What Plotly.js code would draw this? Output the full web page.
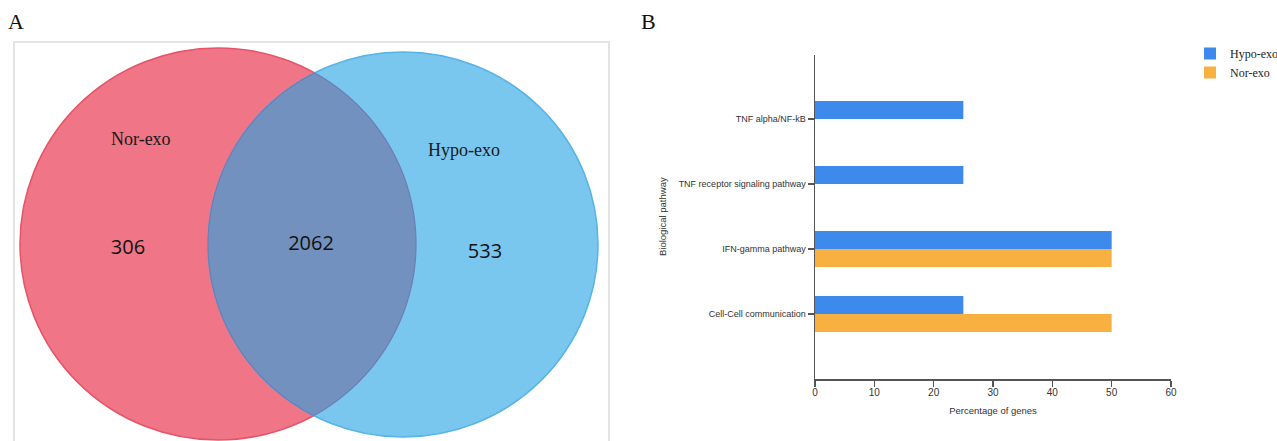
<!DOCTYPE html>
<html><head><meta charset="utf-8">
<script src="https://cdn.plot.ly/plotly-3.0.1.min.js"></script>
<style>html,body{margin:0;padding:0;background:#fff;}#chart{width:1277px;height:441px;}</style>
</head><body><div id="chart"></div>
<script>
// ---- Panel A: Venn data ----
const vennSetNames = ['Nor-exo', 'Hypo-exo'];
const vennCounts = [306, 2062, 533];   // Nor-exo only, shared, Hypo-exo only

// ---- Panel B: bar data ----
const pathways = ['TNF alpha/NF-kB', 'TNF receptor signaling pathway', 'IFN-gamma pathway', 'Cell-Cell communication'];
const hypoExo = [25, 25, 50, 25];
const norExo = [0, 0, 50, 50];
const xTickVals = [0, 10, 20, 30, 40, 50, 60];

// ---- styling / layout constants ----
const W = 1277, H = 441;
const SANS = 'Liberation Sans Narrow, Arial Narrow, Liberation Sans, Arial, sans-serif';
const SERIF = 'Liberation Serif, Times New Roman, serif';
const COL_HYPO = '#3D89EC', COL_NOR = '#F8B140';
const AXC = '#555555';

const redE = {cx: 218, cy: 244, rx: 198, ry: 196};
const blueE = {cx: 403, cy: 244.5, rx: 195, ry: 192.5};

function inside(e, x, y) { return ((x - e.cx) / e.rx) ** 2 + ((y - e.cy) / e.ry) ** 2 <= 1; }
function arc(e, other, t0) {
  const pts = [], N = 720;
  for (let i = 0; i <= N; i++) {
    const t = t0 + 2 * Math.PI * i / N;
    const x = e.cx + e.rx * Math.cos(t), y = e.cy + e.ry * Math.sin(t);
    if (inside(other, x, y)) pts.push([x, y]);
  }
  return pts;
}
const lensPts = arc(redE, blueE, -Math.PI).concat(arc(blueE, redE, 0));
const lensPath = 'M' + lensPts.map(p => p[0].toFixed(2) + ',' + p[1].toFixed(2)).join('L') + 'Z';

function ell(e, fill, line) {
  return {type: 'circle', xref: 'x2', yref: 'y2', x0: e.cx - e.rx, x1: e.cx + e.rx,
    y0: e.cy - e.ry, y1: e.cy + e.ry, fillcolor: fill, line: {color: line, width: 1.5}, layer: 'below'};
}

const traces = [
  {type: 'bar', orientation: 'h', name: 'Hypo-exo', y: pathways, x: hypoExo,
   marker: {color: COL_HYPO, line: {width: 0}}, xaxis: 'x', yaxis: 'y', hoverinfo: 'x+y+name'},
  {type: 'bar', orientation: 'h', name: 'Nor-exo', y: pathways, x: norExo,
   marker: {color: COL_NOR, line: {width: 0}}, xaxis: 'x', yaxis: 'y', hoverinfo: 'x+y+name'},
  {type: 'scatter', mode: 'text', x: [128, 311, 485], y: [249, 245, 253],
   text: vennCounts.map(String), textposition: 'middle center',
   textfont: {family: 'Open Sans, DejaVu Sans, sans-serif', size: 20, color: '#111'},
   xaxis: 'x2', yaxis: 'y2', showlegend: false, hoverinfo: 'skip', cliponaxis: false}
];

const layout = {
  width: W, height: H,
  margin: {l: 0, r: 0, t: 0, b: 0, autoexpand: false},
  paper_bgcolor: '#ffffff', plot_bgcolor: 'rgba(0,0,0,0)',
  barmode: 'group', bargap: 0.446, bargroupgap: 0,
  xaxis: {domain: [815 / W, 1171 / W], range: [0, 60], tickvals: xTickVals, anchor: 'y', automargin: false,
    ticks: 'outside', ticklen: 6, tickwidth: 1.2, tickcolor: AXC, ticklabelstandoff: -3,
    showline: true, linecolor: AXC, linewidth: 1.5, showgrid: false, zeroline: false,
    tickfont: {family: SANS, size: 10, color: '#333'},
    title: {text: 'Percentage of genes', font: {family: SANS, size: 9.5, color: '#333'}, standoff: 11},
    fixedrange: true},
  yaxis: {domain: [1 - 379 / H, 1 - 55 / H], range: [4, -0.985], type: 'category', anchor: 'x', automargin: false,
    ticks: 'outside', ticklen: 6, tickwidth: 1.2, tickcolor: AXC,
    showline: true, linecolor: AXC, linewidth: 1.5, showgrid: false, zeroline: false,
    tickfont: {family: SANS, size: 9, color: '#333'},
    fixedrange: true},
  xaxis2: {domain: [0, 1], range: [0, W], anchor: 'y2', visible: false, fixedrange: true},
  yaxis2: {domain: [0, 1], range: [H, 0], anchor: 'x2', visible: false, fixedrange: true},
  legend: {x: 1190 / W, y: 1 - 39 / H, xanchor: 'left', yanchor: 'top',
    font: {family: SERIF, size: 12, color: '#222'}, bgcolor: 'rgba(255,255,255,0)',
    itemwidth: 30, tracegroupgap: 0},
  shapes: [
    {type: 'rect', xref: 'x2', yref: 'y2', x0: 14, x1: 609, y0: 42, y1: 470,
     line: {color: '#e3e3e3', width: 2}, fillcolor: 'rgba(0,0,0,0)', layer: 'below'},
    ell(redE, '#F07586', '#E65468'),
    ell(blueE, '#79C6EE', '#58B3E6'),
    {type: 'path', xref: 'x2', yref: 'y2', path: lensPath, fillcolor: '#7391BE',
     line: {color: '#6D7DB6', width: 1.2}, layer: 'below'},
    // outer ticks at the ends of the y axis
    {type: 'line', xref: 'x', xsizemode: 'pixel', xanchor: 0, x0: -7, x1: 0,
     yref: 'y domain', y0: 1, y1: 1, line: {color: AXC, width: 1.5}},
    {type: 'line', xref: 'x', xsizemode: 'pixel', xanchor: 0, x0: -7, x1: 0,
     yref: 'y domain', y0: 0, y1: 0, line: {color: AXC, width: 1.5}}
  ],
  annotations: [
    {xref: 'x2', yref: 'y2', x: 15.5, y: 21, text: 'A', showarrow: false,
     font: {family: SERIF, size: 22, color: '#111'}},
    {xref: 'x2', yref: 'y2', x: 648.5, y: 21, text: 'B', showarrow: false,
     font: {family: SERIF, size: 22, color: '#111'}},
    {xref: 'x2', yref: 'y2', x: 141, y: 139, text: vennSetNames[0], showarrow: false,
     font: {family: SERIF, size: 18, color: '#1a1a1a'}},
    {xref: 'x2', yref: 'y2', x: 464, y: 150, text: vennSetNames[1], showarrow: false,
     font: {family: SERIF, size: 18, color: '#1a1a1a'}},
    {xref: 'x2', yref: 'y2', x: 662, y: 217, text: 'Biological pathway', showarrow: false, textangle: -90,
     font: {family: SANS, size: 9.5, color: '#333'}}
  ]
};

Plotly.newPlot('chart', traces, layout, {displayModeBar: false, staticPlot: true});
</script>
</body></html>
